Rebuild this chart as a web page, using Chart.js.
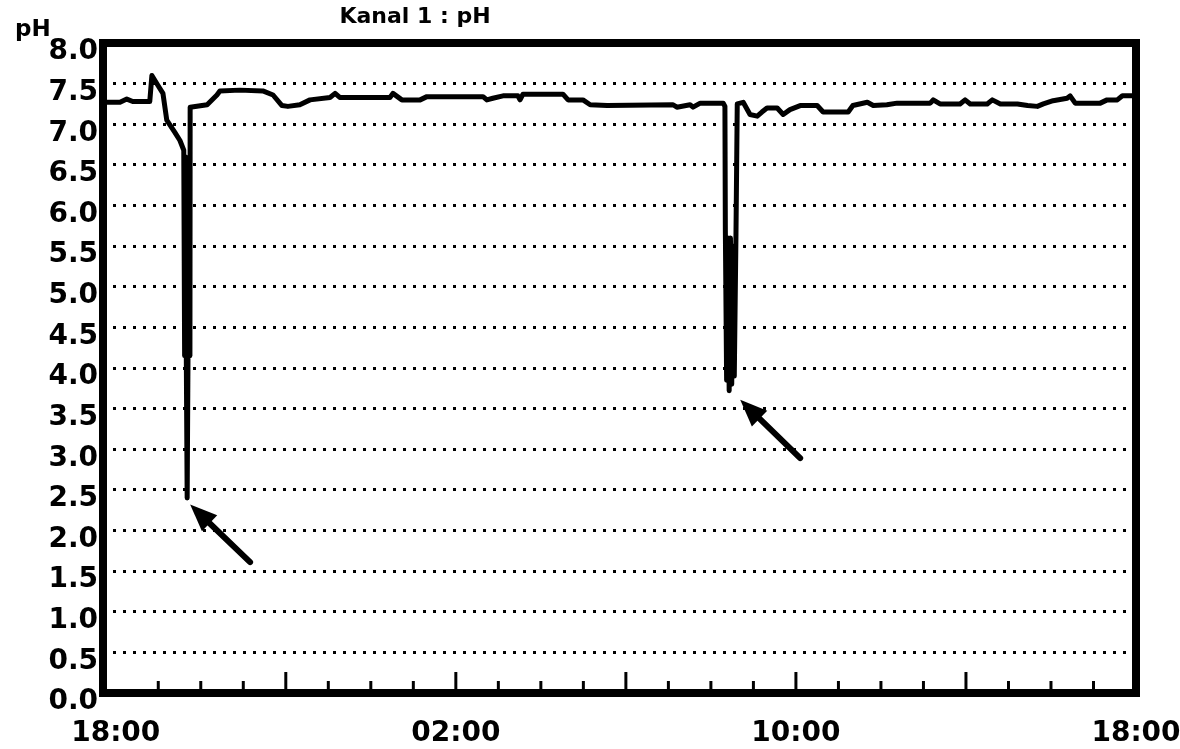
<!DOCTYPE html>
<html>
<head>
<meta charset="utf-8">
<script src="https://cdn.jsdelivr.net/npm/chart.js@4.4.1/dist/chart.umd.min.js"></script>
<style>
  html, body { margin: 0; padding: 0; background: #fff; }
  #wrap { width: 1180px; height: 749px; }
</style>
</head>
<body>
<div id="wrap"><canvas id="phChart"></canvas></div>
<script>
// time in hours after 18:00, pH reading
const hours = [
  -0.30, 0.10, 0.26, 0.40, 0.80, 0.85, 0.99, 1.11, 1.20, 1.39, 1.51, 1.60,
  1.62, 1.64, 1.66, 1.68, 1.70, 1.72, 1.745, 1.75,
  2.15, 2.38, 2.45, 2.92, 3.46, 3.70, 3.91, 4.05, 4.33, 4.57, 5.04, 5.16, 5.27,
  6.45, 6.52, 6.73, 7.16, 7.32, 8.64, 8.73, 8.87, 9.11, 9.46, 9.51, 9.58,
  10.52, 10.64, 10.99, 11.16, 11.56, 13.11, 13.20, 13.51, 13.58, 13.75, 14.29, 14.33,
  14.34, 14.37, 14.40, 14.43, 14.46, 14.49, 14.52, 14.55, 14.59, 14.62,
  14.76, 14.92, 15.09, 15.20, 15.32, 15.56, 15.70, 15.86, 16.10, 16.50, 16.64,
  17.23, 17.34, 17.68, 17.82, 18.14, 18.38, 19.16, 19.23, 19.39, 19.86, 19.98,
  20.10, 20.50, 20.62, 20.81, 21.21, 21.45, 21.68, 21.82, 22.05, 22.38, 22.45,
  22.57, 23.16, 23.32, 23.56, 23.68, 24.00
];
const ph = [
  7.27, 7.27, 7.31, 7.28, 7.28, 7.60, 7.48, 7.38, 7.05, 6.90, 6.80, 6.68,
  4.15, 6.60, 4.10, 2.40, 4.20, 6.55, 4.15, 7.21,
  7.24, 7.36, 7.41, 7.42, 7.41, 7.36, 7.23, 7.22, 7.24, 7.30, 7.33, 7.38, 7.33,
  7.33, 7.38, 7.30, 7.30, 7.34, 7.34, 7.30, 7.32, 7.35, 7.35, 7.30, 7.37,
  7.37, 7.30, 7.30, 7.24, 7.23, 7.24, 7.21, 7.24, 7.21, 7.26, 7.26, 7.22,
  5.70, 3.85, 5.60, 3.72, 5.60, 3.80, 5.50, 3.90, 5.65, 7.25,
  7.27, 7.12, 7.10, 7.15, 7.20, 7.20, 7.12, 7.18, 7.23, 7.23, 7.15,
  7.15, 7.23, 7.27, 7.23, 7.24, 7.26, 7.26, 7.30, 7.25, 7.25, 7.30,
  7.25, 7.25, 7.30, 7.25, 7.25, 7.23, 7.22, 7.25, 7.29, 7.32, 7.35,
  7.26, 7.26, 7.30, 7.30, 7.35, 7.35
];

const xTickHours = [0, 8, 16, 24];
const xTickLabels = ['18:00', '02:00', '10:00', '18:00'];

// arrows marking the two dips: [tailHour, tailPh, tipHour, tipPh]
const arrowNotes = [
  [3.16, 1.61, 1.75, 2.32],
  [16.10, 2.89, 14.69, 3.61]
];

const framePlugin = {
  id: 'framePlugin',
  afterDatasetsDraw(chart) {
    const { ctx, chartArea: a, scales: { x, y } } = chart;
    ctx.save();
    ctx.strokeStyle = '#000';
    ctx.fillStyle = '#000';

    // hour ticks pointing into the plot
    ctx.lineWidth = 3;
    for (let h = 1; h < 24; h++) {
      const px = x.getPixelForValue(h);
      const len = h % 4 === 0 ? 21 : 12;
      ctx.beginPath();
      ctx.moveTo(px, a.bottom);
      ctx.lineTo(px, a.bottom - len);
      ctx.stroke();
    }

    // heavy frame
    ctx.lineWidth = 8;
    ctx.strokeRect(a.left, a.top, a.right - a.left, a.bottom - a.top);

    // arrows
    arrowNotes.forEach(([h0, p0, h1, p1]) => {
      const x0 = x.getPixelForValue(h0), y0 = y.getPixelForValue(p0);
      const x1 = x.getPixelForValue(h1), y1 = y.getPixelForValue(p1);
      const ang = Math.atan2(y1 - y0, x1 - x0);
      const headLen = 27, headW = 11;
      const bx = x1 - headLen * Math.cos(ang), by = y1 - headLen * Math.sin(ang);
      ctx.lineWidth = 6;
      ctx.lineCap = 'round';
      ctx.beginPath();
      ctx.moveTo(x0, y0);
      ctx.lineTo(bx, by);
      ctx.stroke();
      ctx.beginPath();
      ctx.moveTo(x1, y1);
      ctx.lineTo(bx + headW * Math.sin(ang), by - headW * Math.cos(ang));
      ctx.lineTo(bx - headW * Math.sin(ang), by + headW * Math.cos(ang));
      ctx.closePath();
      ctx.fill();
    });

    // title and unit
    ctx.textBaseline = 'alphabetic';
    ctx.textAlign = 'center';
    ctx.font = 'bold 22px "DejaVu Sans"';
    ctx.fillText('Kanal 1 : pH', 415, 23);
    ctx.textAlign = 'left';
    ctx.font = 'bold 23px "DejaVu Sans"';
    ctx.fillText('pH', 15, 36);
    ctx.restore();
  }
};

const ctx = document.getElementById('phChart').getContext('2d');
const phChart = new Chart(ctx, {
  type: 'line',
  data: {
    datasets: [{
      label: 'pH',
      data: hours.map((h, i) => ({ x: h, y: ph[i] })),
      borderColor: '#000',
      borderWidth: 5,
      borderJoinStyle: 'round',
      borderCapStyle: 'round',
      pointRadius: 0,
      fill: false,
      tension: 0
    }]
  },
  options: {
    responsive: true,
    maintainAspectRatio: false,
    animation: false,
    layout: { padding: { top: 43, right: 44, bottom: 0, left: 0 } },
    plugins: {
      legend: { display: false },
      tooltip: { enabled: false }
    },
    scales: {
      x: {
        type: 'linear',
        min: -0.3,
        max: 24,
        afterBuildTicks: (scale) => {
          scale.ticks = xTickHours.map(v => ({ value: v }));
        },
        afterFit: (scale) => {
          scale.height = 56;
          scale.paddingLeft = 0;
          scale.paddingRight = 0;
        },
        grid: { display: false },
        border: { display: false },
        ticks: {
          autoSkip: false,
          maxRotation: 0,
          padding: 16,
          color: '#000',
          font: { family: 'DejaVu Sans', weight: 'bold', size: 28 },
          callback: (v) => xTickLabels[xTickHours.indexOf(v)] ?? ''
        }
      },
      y: {
        min: 0,
        max: 8,
        afterFit: (scale) => {
          scale.width = 103;
          scale.paddingTop = 0;
          scale.paddingBottom = 0;
        },
        grid: {
          color: '#000',
          lineWidth: 3,
          drawTicks: false
        },
        border: { display: false, dash: [3, 7] },
        ticks: {
          stepSize: 0.5,
          padding: 5,
          labelOffset: 9,
          color: '#000',
          font: { family: 'DejaVu Sans', weight: 'bold', size: 28 },
          callback: (v) => v.toFixed(1)
        }
      }
    }
  },
  plugins: [framePlugin]
});
</script>
</body>
</html>
